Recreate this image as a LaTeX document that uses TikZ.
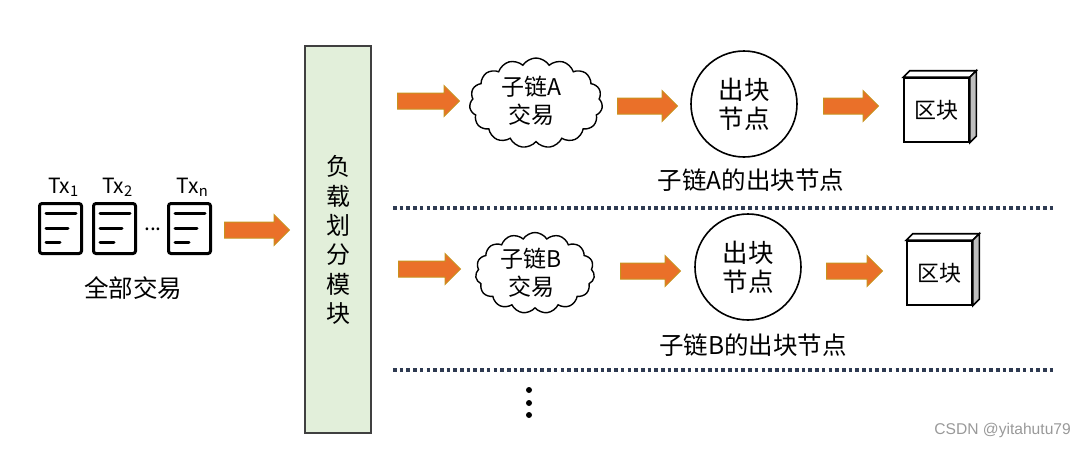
\documentclass[tikz,border=0pt]{standalone}
\usepackage{fontspec}
\setmainfont{Noto Sans CJK SC}
\newfontfamily\markfont{Liberation Sans}
\usetikzlibrary{positioning,shapes.arrows,shapes.symbols}
\definecolor{arrowfill}{HTML}{EA7029}
\definecolor{arrowedge}{HTML}{C8921E}
\definecolor{modulefill}{HTML}{E2EFDA}
\definecolor{dotline}{HTML}{2F3B52}
\newcommand{\txtsize}{\fontsize{24.5}{29}\selectfont}

\begin{document}
\begin{tikzpicture}[
		x=1pt, y=-1pt,
		node distance=9pt,
		label/.style={font=\txtsize, align=center, inner sep=0pt},
		txlabel/.style={font=\fontsize{21}{24}\selectfont, align=center, inner sep=0pt},
		blockarrow/.style={single arrow, draw=arrowedge, fill=arrowfill, line width=1pt, inner xsep=0pt, inner ysep=7.5pt, minimum width=31pt, single arrow head extend=7.5pt, single arrow head indent=0pt, anchor=tail},
		docbox/.style={rectangle, draw, line width=3pt, rounded corners=2.5pt, minimum width=42pt, minimum height=50pt, anchor=north west},
		docline/.style={line width=3pt, line cap=round},
		txcloud/.style={cloud, draw, line width=1.4pt, cloud puffs=15, cloud puff arc=115, inner sep=0pt},
		cloudtext/.style={font=\fontsize{23}{28}\selectfont, align=center, inner sep=0pt},
		roundnode/.style={circle, draw, line width=1.6pt, minimum size=106pt, inner sep=0pt, font=\fontsize{25.5}{29}\selectfont, align=center},
		chainblock/.style={rectangle, draw, line width=1.6pt, fill=white, minimum width=65pt, minimum height=64pt, inner sep=0pt, font=\fontsize{22}{26}\selectfont},
		dotrule/.style={dotline, line width=3.6pt, dash pattern=on 3.6pt off 3.1pt}
		]
		\useasboundingbox (0,0) rectangle (1085,448);
		% left part: all transactions
		\node[docbox] (doc1) at (38,202) {};
		\node[docbox, right=9pt of doc1] (doc2) {};
		\node[docbox] (doc3) at (167,202) {};
		\foreach \doc in {doc1,doc2,doc3} {
			\draw[docline] ([xshift=8pt,yshift=-11pt]\doc.north west) -- +(30,0);
			\draw[docline] ([xshift=8pt,yshift=-26pt]\doc.north west) -- +(22,0);
			\draw[docline] ([xshift=8pt,yshift=-40pt]\doc.north west) -- +(14,0);
		}
		\node[txlabel, above=5pt of doc1, xshift=3pt] (tx1) {Tx\textsubscript{1}};
		\node[txlabel, above=5pt of doc2, xshift=3pt] (tx2) {Tx\textsubscript{2}};
		\node[txlabel, above=5pt of doc3, xshift=3pt] (txn) {Tx\textsubscript{n}};
		\node[txlabel] (more) at (153,229) {...};
		\node[label] (alltx) at (133,288) {全部交易};
		\node[blockarrow, minimum height=65pt] (inarrow) at (224,230) {};
		% load split module
		\node[rectangle, draw=black!75, fill=modulefill, line width=1.6pt, minimum width=66pt, minimum height=387pt] (module) at (338,239.5) {};
		\node[label, font=\fontsize{24}{29.3}\selectfont] (modtext) at (338,240) {负\\载\\划\\分\\模\\块};
		% chain A
		\node[blockarrow, minimum height=62pt] (arrowA1) at (397,101) {};
		\node[txcloud, minimum width=133pt, minimum height=90pt] (cloudA) at (536,103) {};
		\node[cloudtext] (textA) at (531,101) {子链A\\交易};
		\node[blockarrow, minimum height=60pt] (arrowA2) at (617,106) {};
		\node[roundnode] (nodeA) at (744,104) {出块\\节点};
		\node[blockarrow, minimum height=55pt] (arrowA3) at (823,106) {};
		\node[chainblock] (blockA) at (936.5,110) {区块};
		\node[label] (nameA) at (751,180) {子链A的出块节点};
		\draw[dotrule] (393,208) -- (1054,208);
		% chain B
		\node[blockarrow, minimum height=62pt] (arrowB1) at (398,269) {};
		\node[txcloud, minimum width=119pt, minimum height=81pt] (cloudB) at (535,273) {};
		\node[cloudtext] (textB) at (531,273) {子链B\\交易};
		\node[blockarrow, minimum height=60pt] (arrowB2) at (620,271) {};
		\node[roundnode] (nodeB) at (748,267) {出块\\节点};
		\node[blockarrow, minimum height=56pt] (arrowB3) at (826,271) {};
		\node[chainblock] (blockB) at (939.5,273) {区块};
		\node[label] (nameB) at (753,345) {子链B的出块节点};
		\draw[dotrule] (393,370) -- (1054,370);
		% block side faces
		\foreach \blk in {blockA,blockB} {
			\draw[line width=1.6pt, fill=white] (\blk.north west) -- +(6.5,-6.5) -- ([xshift=6.5pt,yshift=6.5pt]\blk.north east) -- (\blk.north east) -- cycle;
			\draw[line width=1.6pt, fill=black!25] (\blk.north east) -- ([xshift=6.5pt,yshift=6.5pt]\blk.north east) -- ([xshift=6.5pt,yshift=6.5pt]\blk.south east) -- (\blk.south east) -- cycle;
		}
		% more chains
		\foreach \y/\name in {390/dotA,403/dotB,415/dotC}
			\node[circle, fill=black, inner sep=0pt, minimum size=6pt] (\name) at (529,\y) {};
		\node[text=black!40, font=\markfont\fontsize{15.6}{18}\selectfont, anchor=east, inner sep=0pt] (mark) at (1071,430) {CSDN @yitahutu79};
	\end{tikzpicture}
\end{document}
